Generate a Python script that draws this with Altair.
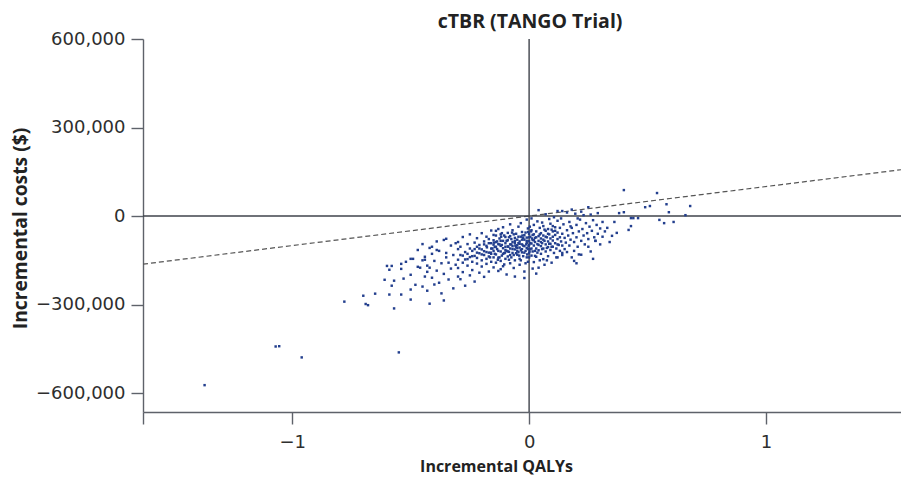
import altair as alt
import pandas as pd

# Incremental QALYs / incremental costs (in $ thousands)
qaly = [
    # lower-left sparse tail
    -1.37, -1.07, -1.055, -0.96, -0.55, -0.78, -0.70, -0.69, -0.68, -0.65, -0.61, -0.60, -0.59, -0.59,
    -0.58, -0.58, -0.57, -0.57, -0.54, -0.54, -0.54, -0.53, -0.52, -0.50, -0.50, -0.50, -0.50, -0.49,
    -0.48, -0.47, -0.47, -0.46, -0.45, -0.44, -0.43, -0.43, -0.42, -0.41, -0.39, -0.36, -0.35,
    # band -0.45 .. -0.30
    -0.45, -0.44, -0.43, -0.42, -0.42, -0.41, -0.41, -0.40, -0.40, -0.39, -0.38, -0.38, -0.37, -0.37,
    -0.36, -0.36, -0.35, -0.35, -0.34, -0.34, -0.33, -0.33, -0.32, -0.32, -0.31, -0.31, -0.30, -0.30,
    -0.30, -0.44, -0.45, -0.39,
    # band -0.30 .. -0.15
    -0.30, -0.30, -0.29, -0.29, -0.29, -0.28, -0.28, -0.28, -0.27, -0.27, -0.27, -0.26, -0.26, -0.26,
    -0.25, -0.25, -0.25, -0.25, -0.24, -0.24, -0.24, -0.23, -0.23, -0.23, -0.22, -0.22, -0.22, -0.22,
    -0.21, -0.21, -0.21, -0.20, -0.20, -0.20, -0.20, -0.19, -0.19, -0.19, -0.19, -0.18, -0.18, -0.18,
    -0.18, -0.17, -0.17, -0.17, -0.17, -0.16, -0.16, -0.16, -0.16, -0.15, -0.15, -0.15, -0.15, -0.15,
    # band -0.15 .. 0
    -0.145, -0.14, -0.14, -0.14, -0.14, -0.135, -0.13, -0.13, -0.13, -0.13, -0.125, -0.12, -0.12, -0.12,
    -0.12, -0.115, -0.11, -0.11, -0.11, -0.11, -0.105, -0.10, -0.10, -0.10, -0.10, -0.095, -0.09, -0.09,
    -0.09, -0.09, -0.085, -0.08, -0.08, -0.08, -0.08, -0.075, -0.07, -0.07, -0.07, -0.07, -0.065, -0.06,
    -0.06, -0.06, -0.06, -0.055, -0.05, -0.05, -0.05, -0.05, -0.045, -0.04, -0.04, -0.04, -0.04, -0.035,
    -0.03, -0.03, -0.03, -0.03, -0.025, -0.02, -0.02, -0.02, -0.02, -0.015, -0.01, -0.01, -0.01, -0.01,
    -0.005, -0.005, 0.0, 0.0, 0.0, 0.0, -0.12, -0.08, -0.06, -0.035, -0.02, -0.01, -0.14, -0.105,
    -0.065, -0.045, -0.025, -0.015, -0.095, -0.075, -0.055, -0.035, -0.125, -0.115, -0.085, -0.045,
    # band 0 .. 0.15
    0.005, 0.005, 0.01, 0.01, 0.01, 0.01, 0.015, 0.015, 0.02, 0.02, 0.02, 0.02, 0.025, 0.025,
    0.03, 0.03, 0.03, 0.035, 0.035, 0.04, 0.04, 0.04, 0.04, 0.045, 0.05, 0.05, 0.05, 0.05,
    0.055, 0.06, 0.06, 0.06, 0.06, 0.065, 0.07, 0.07, 0.07, 0.07, 0.075, 0.08, 0.08, 0.08,
    0.08, 0.085, 0.09, 0.09, 0.09, 0.095, 0.10, 0.10, 0.10, 0.10, 0.105, 0.11, 0.11, 0.11,
    0.115, 0.12, 0.12, 0.12, 0.12, 0.125, 0.13, 0.13, 0.13, 0.135, 0.14, 0.14, 0.14, 0.145,
    0.15, 0.15, 0.04, 0.12, 0.14, 0.015, 0.03, 0.045, 0.065, 0.085, 0.105, 0.025, 0.055, 0.075,
    0.095, 0.115, 0.135,
    # band 0.15 .. 0.32
    0.155, 0.16, 0.16, 0.165, 0.17, 0.17, 0.175, 0.18, 0.18, 0.185, 0.19, 0.19, 0.195, 0.20,
    0.20, 0.205, 0.21, 0.21, 0.215, 0.22, 0.22, 0.225, 0.23, 0.23, 0.235, 0.24, 0.245, 0.25,
    0.25, 0.25, 0.255, 0.26, 0.265, 0.27, 0.27, 0.275, 0.28, 0.285, 0.29, 0.29, 0.30, 0.30,
    0.31, 0.31, 0.32, 0.19, 0.14, 0.16, 0.18, 0.22, 0.26, 0.20, 0.175, 0.205,
    # right sparse tail
    0.40, 0.54, 0.58, 0.68, 0.51, 0.49, 0.59, 0.66, 0.38, 0.40, 0.46, 0.43, 0.44, 0.55,
    0.57, 0.61, 0.36, 0.43, 0.42, 0.37, 0.35, 0.33, 0.28, 0.34,
]

cost_k = [
    -573, -442, -441, -479, -462, -290, -270, -298, -302, -263, -216, -169, -182, -266,
    -236, -169, -313, -219, -162, -179, -266, -212, -155, -145, -199, -249, -283, -145,
    -233, -115, -172, -175, -239, -148, -189, -253, -297, -104, -115, -286, -77,
    -150, -205, -168, -175, -108, -209, -128, -152, -232, -185, -226, -118, -160, -262,
    -81, -196, -125, -140, -158, -215, -100, -178, -245, -132, -165, -92, -205, -148,
    -112, -138, -95, -86,
    -88, -176, -132, -214, -104, -158, -71, -190, -122, -147, -236, -95, -168, -128,
    -110, -201, -139, -62, -155, -118, -183, -90, -135, -222, -104, -161, -75, -142,
    -126, -192, -98, -150, -113, -58, -171, -132, -86, -206, -119, -145, -101, -162,
    -70, -124, -188, -92, -137, -110, -155, -49, -128, -82, -174, -118, -140, -97,
    -105, -66, -130, -158, -88, -112, -44, -95, -141, -186, -76, -120, -101, -152,
    -62, -134, -84, -109, -170, -38, -126, -92, -145, -71, -115, -198, -103, -57,
    -137, -82, -121, -96, -160, -68, -110, -140, -48, -88, -125, -102, -176, -74,
    -113, -92, -150, -60, -131, -99, -80, -118, -36, -107, -145, -86, -165, -70,
    -123, -96, -54, -112, -136, -80, -102, -188, -65, -118, -91, -140, -73, -108,
    -42, -155, -85, -126, -98, -60, -180, -28, -205, -24, -210, -12, -50, -164,
    -132, -92, -74, -160, -118, -78, -104, -150, -96, -58, -148, -122,
    -70, -112, -48, -93, -134, -8, -81, -120, -62, -100, -156, -30, -88, -74,
    -110, -52, -138, -95, -18, -68, -175, -116, -84, -40, -102, -58, -128, -76,
    -92, -146, -34, -110, -66, -84, -120, -50, -96, 6, -72, -105, -136, -44,
    -86, -62, -115, -26, -94, -158, -70, -104, -52, -83, -125, -38, -92, -64,
    -110, -78, -140, -16, -56, -98, -72, -118, -40, -86, -60, -132, -100, -28,
    -74, -112, 20, 17, 17, -178, -195, -150, -165, -10, -4, -135, -22, -150,
    -46, -140, -8,
    -90, -48, -122, -66, -20, -100, -80, -140, -40, -58, -118, -88, 8, -72,
    -30, -104, -52, -130, -12, -131, -84, -44, 3, -66, -96, -24, -58, 30,
    -104, -78, -36, -120, -50, -145, -14, -72, -84, -30, 10, -60, -96, -42,
    -20, -70, -52, -152, -125, 12, 22, 15, 5, -160, -35, -8,
    88, 78, 40, 34, 34, 30, 13, 3, 10, 13, -7, -7, -7, -13,
    -24, -20, -20, -34, -47, -57, -67, -40, -84, -88,
]

# extra points of the dense core, (incremental QALYs, incremental cost in $ thousands)
core_points = [
    (-0.19, -96), (-0.18, -122), (-0.17, -78), (-0.165, -140), (-0.16, -92), (-0.155, -110),
    (-0.15, -64), (-0.145, -128), (-0.14, -104), (-0.135, -86), (-0.13, -118), (-0.125, -140),
    (-0.12, -84), (-0.115, -98), (-0.11, -128), (-0.105, -66), (-0.10, -104), (-0.095, -84),
    (-0.09, -120), (-0.085, -72), (-0.08, -132), (-0.075, -96), (-0.07, -112), (-0.065, -62),
    (-0.06, -84), (-0.055, -126), (-0.05, -108), (-0.045, -70), (-0.04, -94), (-0.035, -116),
    (-0.03, -80), (-0.025, -100), (-0.02, -124), (-0.015, -56), (-0.01, -84), (-0.005, -112),
    (0.0, -72), (0.0, -140), (0.005, -92), (0.01, -110), (0.015, -64), (0.02, -82),
    (0.025, -118), (0.03, -72), (0.035, -124), (0.04, -98), (0.045, -62), (0.05, -88),
    (0.055, -112), (0.06, -80), (0.065, -46), (0.07, -70), (0.075, -108), (0.08, -60),
    (0.085, -94), (0.09, -76), (0.095, -104), (0.10, -34), (0.11, -50), (0.12, -96),
    (-0.002, -102), (-0.004, -54), (0.002, -120), (0.003, -36), (-0.008, -130), (0.008, -52),
    (-0.012, -96), (0.012, -76), (-0.028, -66), (-0.042, -134), (-0.058, -100), (-0.072, -56),
    (-0.088, -104), (-0.102, -124), (-0.118, -70), (-0.132, -148), (-0.148, -90), (-0.162, -124),
    (-0.178, -106), (-0.20, -130), (-0.21, -110), (-0.22, -124), (-0.23, -112), (-0.24, -136),
    (-0.26, -146), (-0.28, -134),
]

# Willingness-to-pay threshold line ($100,000 per QALY) end points
wtp_qaly = [-1.63, 1.57]
wtp_cost = [-163000, 157000]

x_domain = [-1.63, 1.57]
y_domain = [-664000, 600000]
x_ticks = [-1.63, -1, 0, 1]
y_ticks = [-600000, -300000, 0, 300000, 600000]
chart_title = "cTBR (TANGO Trial)"

all_q = qaly + [p[0] for p in core_points]
all_c = cost_k + [p[1] for p in core_points]
pts = pd.DataFrame({"qaly": all_q, "cost": [c * 1000 for c in all_c]})
wtp = pd.DataFrame({"qaly": wtp_qaly, "cost": wtp_cost})
zero = pd.DataFrame({"v": [0], "t": [chart_title]})

AX = "#5e626a"
QL = "#3f434b"
TF = "Open Sans"
LF = "DejaVu Sans"

xs = alt.Scale(domain=x_domain, nice=False, zero=False)
ys = alt.Scale(domain=y_domain, nice=False, zero=False)

x_axis = alt.Axis(
    values=x_ticks, format="~g", labelExpr="datum.value < -1.5 ? '' : datum.label", grid=False,
    tickSize=12, tickColor=AX, domainColor=AX, domainWidth=1.4, tickWidth=1.4,
    labelFont=LF, labelFontSize=18, labelColor="#2e2e2e", labelPadding=9,
    title="Incremental QALYs", titleFont=TF, titleFontSize=16, titleFontWeight="bold",
    titleColor="#222222", titleX=353, titleY=59, titleBaseline="alphabetic", titleAlign="center",
)
y_axis = alt.Axis(
    values=y_ticks, format=",d", grid=False,
    tickSize=12, tickColor=AX, domainColor=AX, domainWidth=1.4, tickWidth=1.4,
    labelFont=LF, labelFontSize=18, labelColor="#2e2e2e", labelPadding=6,
    title="Incremental costs ($)", titleFont=TF, titleFontSize=19.3, titleFontWeight="bold",
    titleColor="#222222", titleX=-117, titleY=189, titleAngle=270, titleBaseline="alphabetic",
    titleAlign="center",
)

points = alt.Chart(pts).mark_square(size=6, color="#233f8e", opacity=1, strokeWidth=0).encode(
    x=alt.X("qaly:Q", scale=xs, axis=x_axis),
    y=alt.Y("cost:Q", scale=ys, axis=y_axis),
)

wtp_line = alt.Chart(wtp).mark_line(color="#555555", strokeDash=[5, 3], strokeWidth=1.2, clip=True).encode(
    x=alt.X("qaly:Q", scale=xs),
    y=alt.Y("cost:Q", scale=ys),
)

h_zero = alt.Chart(zero).mark_rule(color=QL, strokeWidth=1.4).encode(y=alt.Y("v:Q", scale=ys))
v_zero = alt.Chart(zero).mark_rule(color=QL, strokeWidth=1.4).encode(x=alt.X("v:Q", scale=xs))

title_text = alt.Chart(zero).mark_text(
    font=TF, fontSize=19.5, fontWeight="bold", color="#222222", align="center", baseline="alphabetic", dx=1
).encode(x=alt.X("v:Q", scale=xs), y=alt.value(-11), text="t:N")

# plot area 143..901 x 39..412 on the page; svg is 893 x 467 so the page does not overflow
chart = alt.layer(wtp_line, h_zero, v_zero, points, title_text).properties(
    width=758, height=373,
    autosize=alt.AutoSizeParams(type="none"),
    padding={"left": 135, "top": 31, "right": 0, "bottom": 63},
).configure_view(stroke=None)

chart.save("out.html", embed_options={"renderer": "svg", "actions": False})
